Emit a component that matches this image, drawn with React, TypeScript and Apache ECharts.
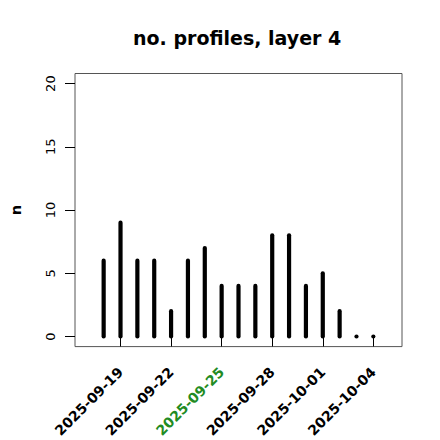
import React, { useEffect, useRef } from "react";
import * as echarts from "echarts";

const dates = [
  "2025-09-18", "2025-09-19", "2025-09-20", "2025-09-21", "2025-09-22",
  "2025-09-23", "2025-09-24", "2025-09-25", "2025-09-26", "2025-09-27",
  "2025-09-28", "2025-09-29", "2025-09-30", "2025-10-01", "2025-10-02",
  "2025-10-03", "2025-10-04",
];
const counts = [6, 9, 6, 6, 2, 6, 7, 4, 4, 4, 8, 8, 4, 5, 2, 0, 0];
const xTickDates = ["2025-09-19", "2025-09-22", "2025-09-25", "2025-09-28", "2025-10-01", "2025-10-04"];
const highlightDate = "2025-09-25";
const yTicks = [0, 5, 10, 15, 20];

const DAY = 86400000;
const toDay = (s: string) => Date.parse(s + "T00:00:00Z") / DAY;
const fromDay = (d: number) => new Date(Math.round(d) * DAY).toISOString().slice(0, 10);

export default function App() {
  const ref = useRef<HTMLDivElement>(null);
  useEffect(() => {
    if (!ref.current) return;
    const chart = echarts.init(ref.current, undefined, { renderer: "svg" });
    const xs = dates.map(toDay);
    const font = "DejaVu Sans";
    chart.setOption({
      animation: false,
      title: {
        text: "no. profiles, layer 4",
        left: 128,
        top: 23,
        textStyle: { fontFamily: font, fontWeight: "bold", fontSize: 19, color: "#000" },
      },
      grid: {
        left: 73.5,
        right: 38,
        top: 73.5,
        bottom: 93,
        show: true,
        borderColor: "#555",
        borderWidth: 1,
        backgroundColor: "transparent",
      },
      xAxis: {
        type: "value",
        min: xs[0] - 1.7,
        max: xs[xs.length - 1] + 1.7,
        splitLine: { show: false },
        axisLine: { show: false },
        axisTick: {
          show: true,
          length: 10,
          lineStyle: { color: "#000" },
          customValues: xTickDates.map(toDay),
        },
        axisLabel: {
          rotate: 45,
          margin: 23,
          customValues: xTickDates.map(toDay),
          fontFamily: font,
          fontWeight: "bold",
          fontSize: 14,
          color: "#000",
          formatter: (v: number) => {
            const s = fromDay(v);
            return s === highlightDate ? "{g|" + s + "}" : s;
          },
          rich: {
            g: { color: "#228B22", fontFamily: font, fontWeight: "bold", fontSize: 14 },
          },
        },
      },
      yAxis: {
        type: "value",
        min: -0.8,
        max: 20.8,
        name: "n",
        nameLocation: "middle",
        nameGap: 52,
        nameRotate: 90,
        nameTextStyle: { fontFamily: font, fontWeight: "bold", fontSize: 14.5, color: "#000" },
        splitLine: { show: false },
        axisLine: { show: false },
        axisTick: {
          show: true,
          length: 10,
          lineStyle: { color: "#000" },
          customValues: yTicks,
        },
        axisLabel: {
          rotate: 90,
          margin: 25,
          align: "center",
          verticalAlign: "middle",
          customValues: yTicks,
          fontFamily: font,
          fontSize: 13,
          color: "#000",
        },
      },
      series: [
        {
          type: "custom",
          data: xs.map((x, i) => [x, counts[i]]),
          renderItem: (params: any, api: any) => {
            const x = api.value(0);
            const y = api.value(1);
            const p0 = api.coord([x, 0]);
            const p1 = api.coord([x, y]);
            return {
              type: "line",
              shape: { x1: p0[0], y1: p0[1], x2: p1[0], y2: p1[1] - (y === 0 ? 0.01 : 0) },
              style: { stroke: "#000", lineWidth: 4.2, lineCap: "round" },
            };
          },
        },
      ],
    });
    return () => chart.dispose();
  }, []);
  return (
    <div
      ref={ref}
      style={{ position: "fixed", left: 0, top: 0, width: 440, height: 440, background: "#fff" }}
    />
  );
}
